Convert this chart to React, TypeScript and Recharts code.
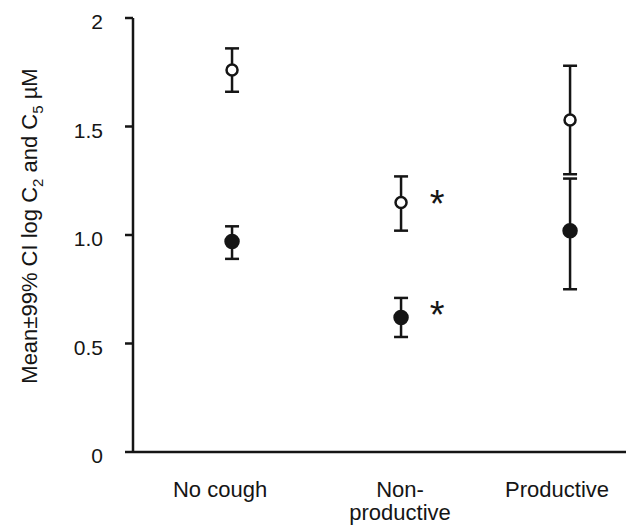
import React from 'react';
import { ScatterChart, Scatter, XAxis, YAxis, ErrorBar } from 'recharts';

// groups along the x axis
const groups = ['No cough', 'Non-productive', 'Productive'];
const groupLines = [['No cough'], ['Non-', 'productive'], ['Productive']];
const groupPos = [1, 2, 3];

// open circles: log C2
const c2Mean = [1.76, 1.15, 1.53];
const c2Low = [1.66, 1.02, 1.28];
const c2High = [1.86, 1.27, 1.78];

// filled circles: log C5
const c5Mean = [0.97, 0.62, 1.02];
const c5Low = [0.89, 0.53, 0.75];
const c5High = [1.04, 0.71, 1.26];

// significance marks (asterisk)
const c2Sig = [false, true, false];
const c5Sig = [false, true, false];

const yTicks = [0, 0.5, 1, 1.5, 2];

const INK = '#151515';
const FONT = '"Liberation Sans", Arial, Helvetica, sans-serif';
const SW = 2.5;

const build = (mean: number[], low: number[], high: number[], sig: boolean[]) =>
  groups.map((g, i) => ({
    name: g,
    x: groupPos[i],
    y: mean[i],
    err: [mean[i] - low[i], high[i] - mean[i]],
    sig: sig[i],
  }));

const c2Data = build(c2Mean, c2Low, c2High, c2Sig);
const c5Data = build(c5Mean, c5Low, c5High, c5Sig);

const makeShape = (filled: boolean, starDy: number) => (props: any) => {
  const { cx, cy, payload } = props;
  return (
    <g>
      <circle
        cx={cx}
        cy={cy}
        r={filled ? 6.5 : 5.5}
        fill={filled ? INK : '#fff'}
        stroke={INK}
        strokeWidth={SW}
      />
      {payload && payload.sig ? (
        <text x={cx + 36} y={cy + starDy} textAnchor="middle" fontSize={38} fontFamily={FONT} fill={INK}>
          *
        </text>
      ) : null}
    </g>
  );
};

const labelShift = [-12, -1, -13];

const CategoryTick = (props: any) => {
  const { x, y, payload } = props;
  const idx = groupPos.indexOf(payload.value);
  const lines = groupLines[idx] || [];
  return (
    <g>
      {lines.map((line, i) => (
        <text
          key={line}
          x={x + labelShift[idx]}
          y={y + 37 + i * 23}
          textAnchor="middle"
          fontSize={22}
          fontFamily={FONT}
          fill={INK}
        >
          {line}
        </text>
      ))}
    </g>
  );
};

export default function App() {
  return (
    <div style={{ position: 'absolute', left: 0, top: 0, width: 626, height: 531, background: '#fff' }}>
      <ScatterChart width={626} height={531} margin={{ top: 18, right: 0, bottom: 0, left: 0 }}>
        <XAxis
          type="number"
          dataKey="x"
          domain={[0.414, 3.331]}
          ticks={groupPos}
          allowDataOverflow
          height={79}
          tickLine={false}
          axisLine={{ stroke: INK, strokeWidth: SW }}
          tick={<CategoryTick />}
        />
        <YAxis
          type="number"
          dataKey="y"
          domain={[0, 2]}
          ticks={yTicks}
          width={133}
          tickSize={8}
          tickMargin={22}
          axisLine={{ stroke: INK, strokeWidth: SW }}
          tickLine={{ stroke: INK, strokeWidth: SW }}
          tickFormatter={(v: number) => (v === 0 || v === 2 ? String(v) : v.toFixed(1))}
          tick={{ fontSize: 21, fill: INK, fontFamily: FONT, dy: 4 }}
        />
        <Scatter data={c2Data} shape={makeShape(false, 15)} isAnimationActive={false}>
          <ErrorBar dataKey="err" direction="y" width={7} stroke={INK} strokeWidth={SW} />
        </Scatter>
        <Scatter data={c5Data} shape={makeShape(true, 11)} isAnimationActive={false}>
          <ErrorBar dataKey="err" direction="y" width={7} stroke={INK} strokeWidth={SW} />
        </Scatter>
      </ScatterChart>
      <svg
        width={626}
        height={531}
        style={{ position: 'absolute', left: 0, top: 0, pointerEvents: 'none' }}
      >
        <text
          transform="translate(37, 226) rotate(-90)"
          textAnchor="middle"
          fontSize={22}
          fontFamily={FONT}
          fill={INK}
        >
          Mean±99% CI log C
          <tspan dy={6} fontSize={15}>2</tspan>
          <tspan dy={-6}> and C</tspan>
          <tspan dy={6} fontSize={15}>5</tspan>
          <tspan dy={-6}>{'  µM'}</tspan>
        </text>
      </svg>
    </div>
  );
}
